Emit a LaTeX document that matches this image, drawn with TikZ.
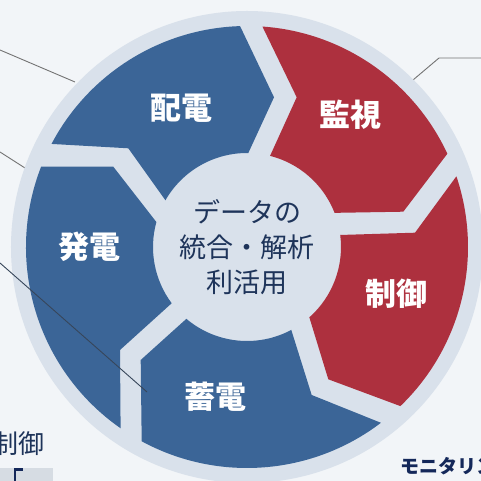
\documentclass[tikz,border=0pt]{standalone}
\usepackage{fontspec}
\newfontfamily\cjk{Noto Sans CJK JP}
\definecolor{bgc}{RGB}{242,245,248}
\definecolor{ringgray}{RGB}{217,225,235}
\definecolor{segblue}{RGB}{59,101,151}
\definecolor{segred}{RGB}{173,48,62}
\definecolor{navy}{RGB}{30,52,90}
\definecolor{darknavy}{RGB}{20,40,90}
\definecolor{leader}{RGB}{115,115,115}
\definecolor{leaderdark}{RGB}{55,70,90}
\definecolor{boxgray}{RGB}{214,220,227}
\begin{document}
\begin{tikzpicture}[x=1pt,y=1pt,
  seglabel/.style={text=white,font=\cjk\bfseries\fontsize{31}{31}\selectfont,inner sep=0pt},
  blueseg/.style={fill=segblue},
  redseg/.style={fill=segred},
  leaderline/.style={draw=leader,line width=0.9pt},
  centertext/.style={text=navy,font=\cjk\fontsize{27}{35}\selectfont,align=center,inner sep=0pt}]
\useasboundingbox (-247,-234) rectangle (234,247);
\fill[bgc] (-247,-234) rectangle (234,247);
% leader lines behind ring
\coordinate (l1a) at (-247,197); \coordinate (l1b) at (-172,165);
\coordinate (l2a) at (-247,95);  \coordinate (l2b) at (-222,79);
\coordinate (l4a) at (166,167);  \coordinate (l4b) at (192,189); \coordinate (l4c) at (234,189);
\coordinate (l5a) at (230,7);    \coordinate (l5b) at (234,12);
\draw[leaderline] (l1a) -- (l1b);
\draw[leaderline] (l2a) -- (l2b);
\draw[leaderline] (l4a) -- (l4b) -- (l4c);
\draw[leaderline] (l5a) -- (l5b);
% ring
\fill[ringgray] (0,0) circle[radius=236];
% segments
\fill[blueseg] (152.2:221) arc[start angle=152.2, end angle=91.8, radius=221]
  -- (27,149.7) -- (89.2:94) arc[start angle=89.2, end angle=150.2, radius=94]
  -- (-118.7,98.7) -- cycle;
\fill[redseg] (86.0:221) arc[start angle=86.0, end angle=24.96, radius=221]
  -- (156.3,35.3) -- (21.3:94) arc[start angle=21.3, end angle=75.8, radius=94]
  -- (49.7,149.7) -- cycle;
\fill[redseg] (18.65:221) arc[start angle=18.65, end angle=-46.05, radius=221]
  -- (81.3,-132.3) -- (-48.45:94) arc[start angle=-48.45, end angle=7.35, radius=94]
  -- (168,14.3) -- cycle;
\fill[blueseg] (-52.7:221) arc[start angle=-52.7, end angle=-118.46, radius=221]
  -- (-106.3,-113) -- (-130.16:94) arc[start angle=-130.16, end angle=-61.9, radius=94]
  -- (64.7,-148) -- cycle;
\fill[blueseg] (-124.89:221) arc[start angle=-124.89, end angle=-201.3, radius=221]
  -- (-133.7,80.3) -- (-195.4:94) arc[start angle=-195.4, end angle=-143.24, radius=94]
  -- (-127,-103) -- cycle;
% leader line over segments
\coordinate (l3a) at (-247,-16); \coordinate (l3b) at (-100,-145);
\draw[draw=leaderdark,line width=0.9pt] (l3a) -- (l3b);
% labels
\node[seglabel] (haiden) at (-65.3,138.7) {配電};
\node[seglabel] (kanshi) at (103,132) {監視};
\node[seglabel] (seigyo) at (149.7,-46.3) {制御};
\node[seglabel] (chikuden) at (-32,-149.7) {蓄電};
\node[seglabel] (hatsuden) at (-157,0.3) {発電};
\node[centertext] (center) at (0,0) {データの\\統合・解析\\利活用};
% cropped edge content
\node[text=navy,font=\cjk\fontsize{26}{26}\selectfont,inner sep=0pt,anchor=east] (seigyo2) at (-202,-196.3) {制御};
\fill[boxgray] (-247,-221) rectangle (-193.7,-234);
\draw[draw=darknavy,line width=2.2pt] (-232.3,-234) -- (-232.3,-222.5) -- (-224,-222.5);
\node[text=darknavy,font=\cjk\bfseries\fontsize{19}{19}\selectfont,inner sep=0pt,anchor=west] (monitor) at (153,-219) {モニタリン};
\end{tikzpicture}
\end{document}
